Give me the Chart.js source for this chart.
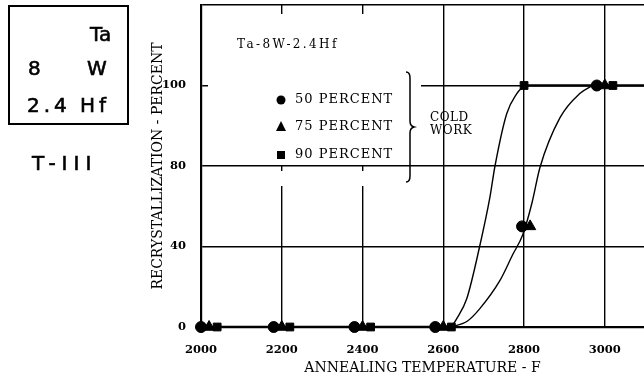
<!DOCTYPE html>
<html>
<head>
<meta charset="utf-8">
<script src="https://cdn.jsdelivr.net/npm/chart.js@4/dist/chart.umd.min.js"></script>
<style>
  html, body { margin: 0; padding: 0; background: #fff; }
  #wrap { position: relative; width: 644px; height: 381px; }
  #chart { position: absolute; left: 0; top: 0; }
  .box { position: absolute; left: 8px; top: 5px; width: 117px; height: 116px; border: 2px solid #000; }
  .lbl { position: absolute; font-family: "DejaVu Sans", sans-serif; font-size: 20px; line-height: 20px; color: #000;
         -webkit-text-stroke: 0.6px #000; }
</style>
</head>
<body>
<div id="wrap">
  <canvas id="chart" width="644" height="381"></canvas>
  <div class="box"></div>
  <div class="lbl" style="left:90px; top:24px;">Ta</div>
  <div class="lbl" style="left:28px; top:58px;">8</div>
  <div class="lbl" style="left:87px; top:58px;">W</div>
  <div class="lbl" style="left:27px; top:95px; letter-spacing:4px;">2.4</div>
  <div class="lbl" style="left:80px; top:95px; letter-spacing:4px;">Hf</div>
  <div class="lbl" style="left:32px; top:153px; letter-spacing:6px;">T-III</div>
</div>
<script>
// annealing temperature (F) and recrystallization (percent) for each cold work level
const temps50 = [2000, 2180, 2380, 2580, 2795, 2980];
const pct50 = [0, 0, 0, 0, 50, 100];
const temps75 = [2020, 2200, 2400, 2600, 2815, 3000];
const pct75 = [0, 0, 0, 0, 50, 100];
const temps90 = [2040, 2220, 2420, 2620, 2800, 3020];
const pct90 = [0, 0, 0, 0, 100, 100];

// hand drawn curves
const fastCurveT = [2620, 2633, 2658, 2690, 2715, 2728, 2757, 2782, 2800];
const fastCurvePct = [0, 4, 14, 40, 64, 80, 93, 98, 100];
const slowCurveT = [2620, 2660, 2690, 2740, 2772, 2797, 2820, 2839, 2889, 2938, 2970];
const slowCurvePct = [0, 3, 9, 23, 36, 46, 62, 79, 92, 98, 100];
const baseLineT = [2000, 2620];
const baseLinePct = [0, 0];
const topLineT = [2800, 3100];
const topLinePct = [100, 100];

const xTicks = [2000, 2200, 2400, 2600, 2800, 3000];
const yTickPct = [0, 40, 80, 100];
const yTickLabels = ['0', '40', '80', '100'];

// the figure's y axis is drawn with equal spacing between 0, 40, 80 and 100
function toAxis(p) {
  for (let i = 1; i < yTickPct.length; i++) {
    if (p <= yTickPct[i]) {
      const a = yTickPct[i - 1], b = yTickPct[i];
      return (i - 1) + (p - a) / (b - a);
    }
  }
  return yTickPct.length - 1;
}

const pts = (xs, ys) => xs.map((x, i) => ({ x: x, y: toAxis(ys[i]) }));

const serif = '"DejaVu Serif", serif';

const paper = {
  id: 'paper',
  beforeDatasetsDraw(chart) {
    const ctx = chart.ctx;
    ctx.save();
    ctx.fillStyle = '#fff';
    // blank area behind the legend text
    ctx.fillRect(208, 14, 213, 151);
    ctx.fillRect(208, 171, 213, 15);
    ctx.restore();
  },
  afterDatasetsDraw(chart) {
    const ctx = chart.ctx;
    ctx.save();
    ctx.fillStyle = '#000';
    ctx.strokeStyle = '#000';
    ctx.textBaseline = 'middle';
    ctx.textAlign = 'left';

    ctx.font = '12px ' + serif;
    ctx.letterSpacing = '2.4px';
    ctx.fillText('Ta-8W-2.4Hf', 237, 45);

    ctx.font = '13px ' + serif;
    ctx.letterSpacing = '1px';
    ctx.fillText('50 PERCENT', 295, 100);
    ctx.fillText('75 PERCENT', 295, 127);
    ctx.fillText('90 PERCENT', 295, 155);

    ctx.font = '12px ' + serif;
    ctx.letterSpacing = '0.5px';
    ctx.fillText('COLD', 430, 118);
    ctx.fillText('WORK', 430, 131);
    ctx.letterSpacing = '0px';

    // legend markers
    ctx.beginPath();
    ctx.arc(281, 100, 4.5, 0, Math.PI * 2);
    ctx.fill();
    ctx.beginPath();
    ctx.moveTo(281, 121);
    ctx.lineTo(286, 131);
    ctx.lineTo(276, 131);
    ctx.closePath();
    ctx.fill();
    ctx.fillRect(277, 151, 8, 8);

    // brace
    ctx.lineWidth = 1.5;
    ctx.beginPath();
    ctx.moveTo(406, 72);
    ctx.quadraticCurveTo(410, 72, 410, 78);
    ctx.lineTo(410, 121);
    ctx.quadraticCurveTo(410, 126, 414, 127);
    ctx.quadraticCurveTo(410, 128, 410, 133);
    ctx.lineTo(410, 176);
    ctx.quadraticCurveTo(410, 182, 406, 182);
    ctx.stroke();
    ctx.restore();
  }
};

const markerSet = (data, style) => ({
  type: 'scatter',
  data: data,
  showLine: false,
  pointStyle: style,
  pointRadius: style === 'triangle' ? 6.5 : 5.5,
  backgroundColor: '#000',
  borderColor: '#000',
  clip: false
});

const lineSet = (data, width, tension) => ({
  type: 'line',
  data: data,
  borderColor: '#000',
  borderWidth: width,
  pointRadius: 0,
  fill: false,
  cubicInterpolationMode: tension ? 'monotone' : 'default',
  tension: 0
});

new Chart(document.getElementById('chart'), {
  type: 'scatter',
  data: {
    datasets: [
      lineSet(pts(baseLineT, baseLinePct), 2.5, false),
      lineSet(pts(topLineT, topLinePct), 2.5, false),
      lineSet(pts(fastCurveT, fastCurvePct), 1.4, true),
      lineSet(pts(slowCurveT, slowCurvePct), 1.4, true),
      markerSet(pts(temps50, pct50), 'circle'),
      markerSet(pts(temps75, pct75), 'triangle'),
      markerSet(pts(temps90, pct90), 'rect')
    ]
  },
  options: {
    responsive: false,
    animation: false,
    devicePixelRatio: 1,
    layout: { autoPadding: false, padding: { left: 146, top: 5, right: 0, bottom: 0 } },
    plugins: { legend: { display: false }, tooltip: { enabled: false } },
    scales: {
      x: {
        type: 'linear',
        min: 2000,
        max: 3097,
        afterBuildTicks: (scale) => { scale.ticks = xTicks.map((v) => ({ value: v })); },
        afterFit: (scale) => {
          scale.height = 54;
          scale.paddingLeft = 0;
          scale.paddingRight = 0;
        },
        grid: { color: '#000', lineWidth: 1.4, drawTicks: false },
        border: { color: '#000', width: 2.2 },
        ticks: {
          color: '#000',
          padding: 16,
          maxRotation: 0,
          font: { family: serif, size: 11.5, weight: 'bold' },
          callback: (v) => String(v)
        },
        title: {
          display: true,
          text: 'ANNEALING TEMPERATURE - F',
          color: '#000',
          font: { family: serif, size: 14 },
          padding: { top: 0, bottom: 4 }
        }
      },
      y: {
        type: 'linear',
        min: 0,
        max: yTickPct.length,
        afterBuildTicks: (scale) => {
          scale.ticks = yTickPct.map((p, i) => ({ value: i })).concat([{ value: yTickPct.length }]);
        },
        afterFit: (scale) => {
          scale.width = 55;
          scale.paddingTop = 0;
          scale.paddingBottom = 0;
        },
        grid: { color: '#000', lineWidth: 1.4, drawTicks: false },
        border: { color: '#000', width: 2.2 },
        ticks: {
          color: '#000',
          padding: 15,
          font: { family: serif, size: 11.5, weight: 'bold' },
          callback: (v) => (yTickLabels[v] !== undefined ? yTickLabels[v] : '')
        },
        title: {
          display: true,
          text: 'RECRYSTALLIZATION - PERCENT',
          color: '#000',
          font: { family: serif, size: 14 },
          padding: { top: 4, bottom: 0 }
        }
      }
    }
  },
  plugins: [paper]
});
</script>
</body>
</html>
